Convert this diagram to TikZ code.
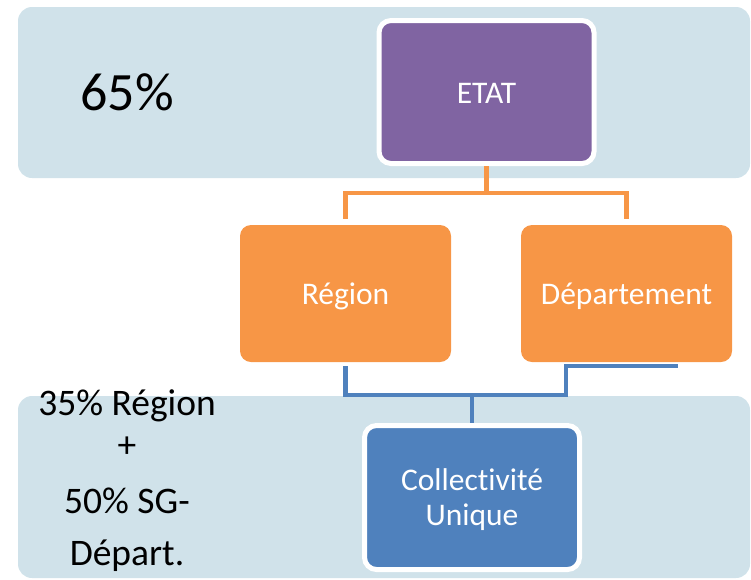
\documentclass[tikz,border=0pt]{standalone}
\usepackage{fontspec}
\setmainfont[Ligatures=NoCommon]{Carlito}
\definecolor{bandblue}{HTML}{D0E2EA}
\definecolor{etatpurple}{HTML}{8064A2}
\definecolor{orgorange}{HTML}{F79646}
\definecolor{cublue}{HTML}{4F81BD}
\tikzset{
  band/.style={fill=bandblue, draw=none, rounded corners=14pt},
  whitebox/.style={draw=white, line width=5pt, rounded corners=12pt, minimum width=215pt, minimum height=143pt, inner sep=0pt},
  orgbox/.style={fill=orgorange, draw=none, rounded corners=11pt, minimum width=211pt, minimum height=137pt, inner sep=0pt},
  orangeline/.style={draw=orgorange, line width=4.5pt},
  blueline/.style={draw=cublue, line width=4.5pt},
  bigtxt/.style={inner sep=0pt, anchor=base, font=\fontsize{54}{60}\selectfont},
  sidetxt/.style={inner sep=0pt, anchor=base, font=\fontsize{37.5}{42}\selectfont},
  boxlbl/.style={text=white, inner sep=0pt, anchor=base, font=\fontsize{31.5}{36}\selectfont},
}
\begin{document}
\begin{tikzpicture}[x=1pt, y=-1pt]
\useasboundingbox (0,0) rectangle (751,579);
% bands
\path[band] (18,7) rectangle (750,178);
\path[band] (18,396) rectangle (750,578);
% nodes
\node[whitebox, fill=etatpurple] (etat) at (486.5,92) {};
\node[boxlbl] (etatlbl) at (486.5,103) {ETAT};
\node[orgbox] (region) at (345.5,293.5) {};
\node[boxlbl] (regionlbl) at (345.5,304) {Région};
\node[orgbox] (dept) at (626.5,293.5) {};
\node[boxlbl] (deptlbl) at (626.5,304) {Département};
\node[whitebox, fill=cublue, minimum height=144pt] (cu) at (472,497.5) {};
\node[boxlbl] (cul1) at (472,490) {Collectivité};
\node[boxlbl] (cul2) at (472,525) {Unique};
% texts
\node[bigtxt] (pct) at (127,110) {65\%};
\node[sidetxt] (s1) at (127,415) {35\% Région};
\node[inner sep=0pt, font=\fontsize{37.5}{42}\selectfont] (s2) at (127,447) {+};
\node[sidetxt] (s3) at (127,513) {50\% SG-};
\node[sidetxt] (s4) at (127,565) {Départ.};
% connectors
\coordinate (obus) at (486.5,193);
\coordinate (bbus) at (472,395);
\coordinate (dstep) at (566,366);
\coordinate (dend) at (678,366);
\draw[orangeline] (etat.south) -- (obus);
\draw[orangeline, shorten >=6pt] (obus) -| (region.north);
\draw[orangeline, shorten >=6pt] (obus) -| (dept.north);
\draw[blueline, shorten <=4pt] (region.south) |- (bbus);
\draw[blueline] (bbus) -| (dstep) -- (dend);
\draw[blueline] (bbus) -- (cu.north);
\end{tikzpicture}
\end{document}
